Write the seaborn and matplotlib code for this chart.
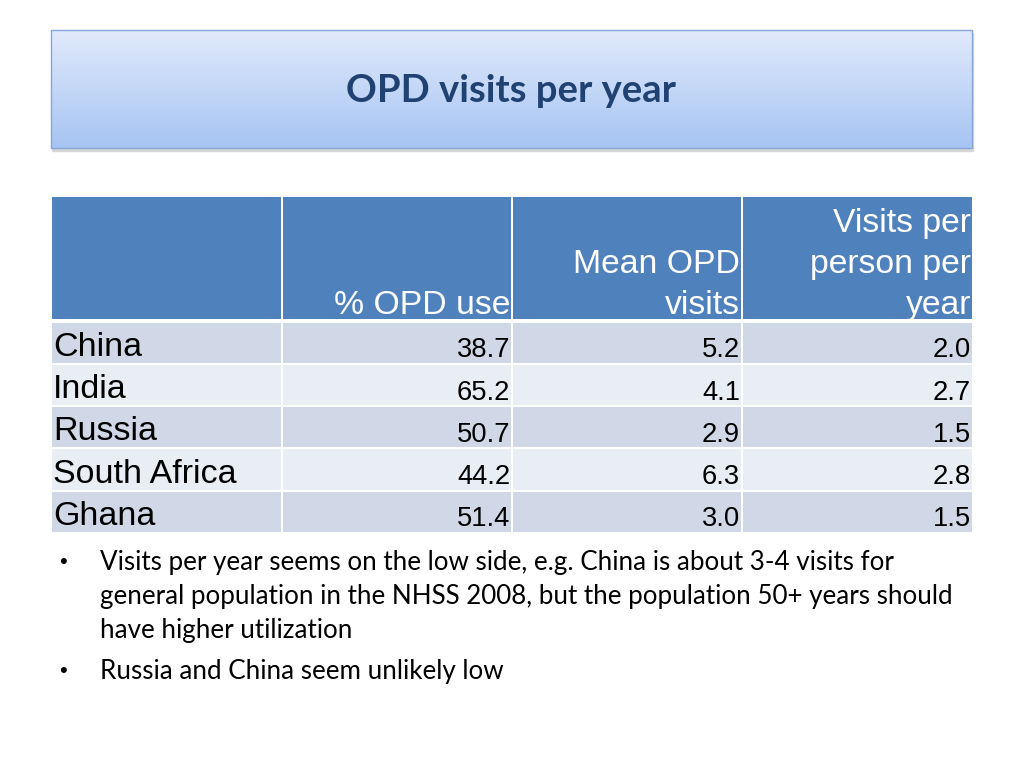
import numpy as np
import matplotlib
matplotlib.use('Agg')
import matplotlib.pyplot as plt
from matplotlib.patches import Rectangle
import seaborn as sns

# === Datos de la tabla ===
paises = ['China', 'India', 'Russia', 'South Africa', 'Ghana']
encabezados = [['% OPD use'], ['Mean OPD', 'visits'], ['Visits per', 'person per', 'year']]
pct_opd = [38.7, 65.2, 50.7, 44.2, 51.4]
media_opd = [5.2, 4.1, 2.9, 6.3, 3.0]
visitas_pp = [2.0, 2.7, 1.5, 2.8, 1.5]

titulo = 'OPD visits per year'
vinetas = [
    ['Visits per year seems on the low side, e.g. China is about 3-4 visits for',
     'general population in the NHSS 2008, but the population 50+ years should',
     'have higher utilization'],
    ['Russia and China seem unlikely low'],
]

# === Estilo ===
sns.set_theme(style='white')
plt.rcParams['font.family'] = ['Liberation Sans', 'DejaVu Sans']

fig = plt.figure(figsize=(10.24, 7.68), dpi=100)
ax = fig.add_axes([0, 0, 1, 1])
ax.set_xlim(0, 1024)
ax.set_ylim(768, 0)
ax.axis('off')

# === Caja del título con degradado ===
x0, x1, y0, y1 = 51, 972, 30, 148
ax.add_patch(Rectangle((x0 + 1, y0 + 3), x1 - x0, y1 - y0, color='#d6d6d6', zorder=1))
top = np.array(matplotlib.colors.to_rgb('#e1eafb'))
bot = np.array(matplotlib.colors.to_rgb('#a6c4f3'))
t = np.linspace(0, 1, 200)[:, None]
grad = (top * (1 - t) + bot * t)[:, None, :]
ax.imshow(grad, extent=(x0, x1, y1, y0), aspect='auto', zorder=2)
ax.add_patch(Rectangle((x0, y0), x1 - x0, y1 - y0, fill=False, edgecolor='#86a6d8', lw=1, zorder=3))
ax.text((x0 + x1) / 2, 91, titulo, ha='center', va='center', fontsize=27.5,
        fontweight='bold', color='#1f4273', family=['Lato', 'DejaVu Sans'], zorder=4)

# === Tabla ===
cols = [(52, 281), (283, 511), (513, 741), (743, 972)]
head_top, head_bot = 197, 319
filas = [(322.5, 362.5), (364.5, 405), (407, 447), (449, 490), (492, 532)]
azul = '#4f81bd'
bandas = ['#d0d8e8', '#e9edf4']

for c0, c1 in cols:
    ax.add_patch(Rectangle((c0, head_top), c1 - c0, head_bot - head_top, color=azul, lw=0))
for i, (r0, r1) in enumerate(filas):
    for c0, c1 in cols:
        ax.add_patch(Rectangle((c0, r0), c1 - c0, r1 - r0, color=bandas[i % 2], lw=0))

# encabezados (alineados abajo a la derecha)
for j, lineas in enumerate(encabezados):
    c1 = cols[j + 1][1]
    for k, linea in enumerate(reversed(lineas)):
        ax.text(c1 - 1, 314 - 41 * k, linea, ha='right', va='baseline',
                fontsize=24.3, color='white')

valores = [pct_opd, media_opd, visitas_pp]
for i, pais in enumerate(paises):
    base = filas[i][1] - 6
    ax.text(53, base - 1, pais, ha='left', va='baseline', fontsize=24.5, color='black')
    for j, serie in enumerate(valores):
        ax.text(cols[j + 1][1] - 1, base + 0.5, f'{serie[i]:.1f}', ha='right', va='baseline',
                fontsize=19.7, color='black')

# === Viñetas ===
y = 570
for grupo in vinetas:
    ax.text(63, y - 2, '•', ha='center', va='baseline', fontsize=16, color='black',
            family=['Liberation Sans', 'DejaVu Sans'])
    for linea in grupo:
        ax.text(100, y, linea, ha='left', va='baseline', fontsize=18.7, color='black',
                family=['Lato', 'DejaVu Sans'])
        y += 34
    y += 7

fig.savefig('out.png', dpi=100)
